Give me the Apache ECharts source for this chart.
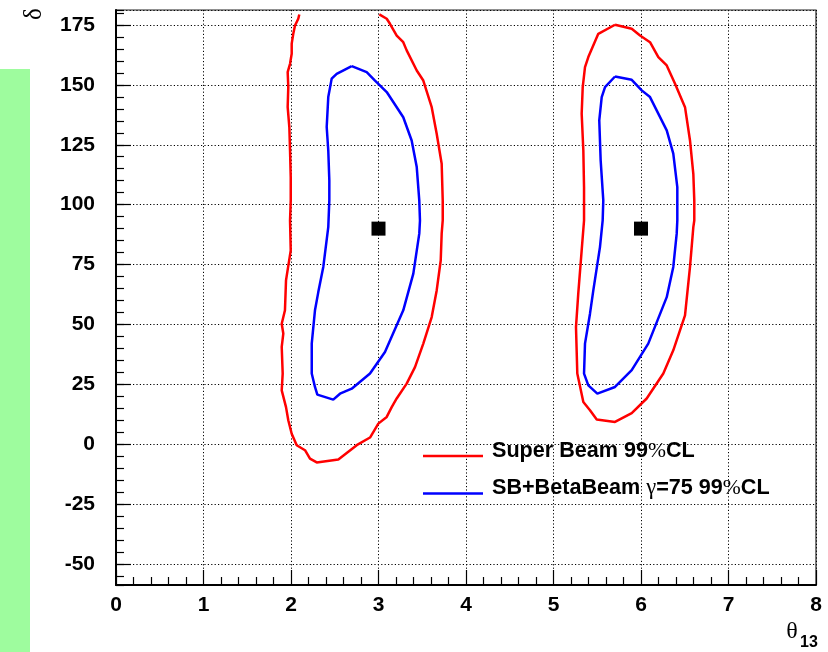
<!DOCTYPE html>
<html>
<head>
<meta charset="utf-8">
<script src="https://cdn.jsdelivr.net/npm/echarts@6/dist/echarts.min.js"></script>
<style>
  html, body { margin: 0; padding: 0; background: #fff; }
  #chart { width: 828px; height: 652px; }
</style>
</head>
<body>
<div id="chart"></div>
<script>
// 99% CL contours in the (theta13, delta) plane
const redLeft = [[2.095,179.4],[2.083,177.6],[2.046,174.8],[2.026,171.3],[2.008,167.2],[2.008,163.0],[1.989,158.8],[1.962,155.3],[1.969,149.1],[1.962,140.7],[1.981,132.4],[1.989,122.6],[1.997,111.5],[1.997,104.6],[1.997,101.8],[1.989,93.4],[1.997,80.9],[1.943,68.4],[1.931,55.9],[1.894,50.3],[1.912,46.2],[1.894,40.6],[1.905,29.5],[1.894,22.5],[1.943,15.5],[1.969,10.0],[2.008,4.4],[2.065,-0.4],[2.16,-2.5],[2.217,-6.0],[2.294,-7.6],[2.541,-6.4],[2.751,-0.4],[2.903,2.8],[2.998,8.6],[3.094,11.4],[3.151,15.5],[3.208,19.1],[3.322,25.3],[3.417,32.2],[3.512,42.0],[3.608,53.1],[3.665,64.2],[3.711,76.7],[3.722,87.9],[3.734,93.4],[3.734,101.8],[3.722,117.1],[3.665,129.6],[3.608,140.7],[3.512,151.8],[3.437,156.0],[3.322,164.4],[3.283,167.8],[3.208,170.6],[3.131,175.5],[3.094,177.6],[3.009,179.4]];
const blueLeft = [[2.694,157.8],[2.522,154.6],[2.465,152.6],[2.426,144.9],[2.408,132.4],[2.426,122.6],[2.438,110.1],[2.438,101.8],[2.426,90.6],[2.369,74.0],[2.312,63.5],[2.274,55.9],[2.237,42.0],[2.237,29.5],[2.274,23.9],[2.301,20.7],[2.483,18.6],[2.56,21.1],[2.694,23.2],[2.903,29.5],[3.074,38.5],[3.283,55.9],[3.398,71.2],[3.466,87.9],[3.474,93.4],[3.466,101.8],[3.437,115.7],[3.379,126.8],[3.283,136.5],[3.094,147.0],[2.96,151.8],[2.865,155.3],[2.694,157.8]];
const redRight = [[5.703,175.1],[5.894,173.4],[5.989,170.6],[6.103,167.8],[6.198,161.6],[6.294,158.1],[6.389,150.5],[6.503,140.7],[6.56,126.8],[6.598,112.9],[6.609,101.8],[6.609,93.4],[6.598,90.6],[6.56,74.0],[6.503,53.8],[6.369,39.2],[6.255,29.5],[6.065,19.1],[5.894,13.0],[5.703,9.3],[5.494,10.3],[5.417,14.2],[5.341,17.6],[5.272,29.5],[5.257,48.9],[5.283,62.9],[5.322,80.9],[5.349,93.4],[5.349,101.8],[5.349,107.3],[5.341,122.6],[5.322,138.0],[5.334,149.1],[5.36,157.4],[5.398,161.6],[5.512,171.3],[5.703,175.1]];
const blueRight = [[5.703,153.5],[5.894,152.1],[6.008,147.7],[6.103,144.9],[6.294,131.0],[6.369,121.3],[6.415,107.3],[6.415,101.8],[6.415,93.4],[6.408,87.9],[6.369,74.0],[6.294,61.4],[6.083,42.0],[5.894,30.9],[5.703,23.9],[5.501,21.1],[5.398,24.6],[5.349,29.5],[5.36,42.0],[5.417,54.5],[5.455,64.2],[5.531,82.3],[5.562,93.4],[5.569,101.8],[5.539,118.5],[5.523,135.2],[5.551,144.9],[5.589,149.1],[5.703,153.5]];
// true parameter points
const truePoints = [[3, 90], [6, 90]];

const nameSB = 'Super Beam 99%CL';
const nameBB = 'SB+BetaBeam \u03b3=75 99%CL';

const SANS = '"Liberation Sans", Arial, Helvetica, sans-serif';
const SERIF = '"Liberation Serif", "Times New Roman", serif';

const chart = echarts.init(document.getElementById('chart'), null, { renderer: 'canvas' });

const dotted = { color: '#000', width: 1, type: [1.2, 2.2] };
const yMin = -58.75, yMax = 181.25;

function contour(name, data, color) {
  return {
    name: name, type: 'line', data: data,
    showSymbol: false, symbol: 'none', smooth: false,
    lineStyle: { color: color, width: 2.5 },
    itemStyle: { color: color },
    silent: true, z: 3
  };
}

chart.setOption({
  animation: false,
  grid: {
    left: 116, right: 12, top: 10, bottom: 67,
    show: true, borderColor: '#222', borderWidth: 1.2, backgroundColor: 'transparent'
  },
  xAxis: {
    type: 'value', min: 0, max: 8, interval: 1,
    axisLine: { show: true, onZero: false, lineStyle: { color: '#000', width: 2 } },
    axisTick: { show: true, inside: true, length: 15, lineStyle: { color: '#000', width: 1.2 } },
    minorTick: { show: true, splitNumber: 5, length: 8, lineStyle: { color: '#000', width: 1.2 } },
    axisLabel: { color: '#000', fontFamily: SANS, fontWeight: 'bold', fontSize: 21, margin: 10 },
    splitLine: { show: true, lineStyle: dotted }
  },
  yAxis: [{
    type: 'value', min: yMin, max: yMax, minInterval: 25, maxInterval: 25,
    axisLine: { show: true, onZero: false, lineStyle: { color: '#000', width: 2 } },
    axisTick: { show: true, inside: true, length: 15, lineStyle: { color: '#000', width: 1.2 } },
    axisLabel: { color: '#000', fontFamily: SANS, fontWeight: 'bold', fontSize: 21, margin: 21,
                 showMinLabel: false, showMaxLabel: false },
    splitLine: { show: true, lineStyle: dotted }
  }, {
    // minor ticks every 5 units
    type: 'value', position: 'left', min: yMin, max: yMax, minInterval: 5, maxInterval: 5,
    axisLine: { show: false },
    axisTick: { show: true, inside: true, length: 8, lineStyle: { color: '#000', width: 1.2 } },
    axisLabel: { show: false },
    splitLine: { show: false }
  }, {
    // carries the rotated axis title at the far left
    type: 'value', position: 'left', offset: 82, min: yMin, max: yMax,
    axisLine: { show: false }, axisTick: { show: false }, axisLabel: { show: false }, splitLine: { show: false },
    name: '\u03b4', nameLocation: 'end', nameRotate: 90, nameGap: -10,
    nameTextStyle: { fontFamily: SERIF, fontSize: 25, color: '#000' }
  }],
  legend: {
    orient: 'vertical', left: 418, top: 435, itemWidth: 60, itemHeight: 14, itemGap: 15,
    data: [nameSB, nameBB],
    icon: 'path://M0,6 L60,6 L60,8.3 L0,8.3 Z',
    selectedMode: false,
    textStyle: {
      padding: [0, 0, 10, 4],
      rich: {
        a: { fontFamily: SANS, fontWeight: 'bold', fontSize: 21.6, color: '#000' },
        g: { fontFamily: SERIF, fontSize: 22.5, color: '#000' },
        p: { fontFamily: SERIF, fontSize: 21.6, color: '#000' }
      }
    },
    formatter: function (name) {
      return name === nameSB
        ? '{a|Super Beam 99}{p|%}{a|CL}'
        : '{a|SB+BetaBeam }{g|\u03b3}{a|=75 99}{p|%}{a|CL}';
    }
  },
  series: [
    contour(nameSB, redLeft, '#ff0000'),
    contour(nameSB, redRight, '#ff0000'),
    contour(nameBB, blueLeft, '#0000ff'),
    contour(nameBB, blueRight, '#0000ff'),
    {
      name: 'true', type: 'scatter', data: truePoints, symbol: 'rect', symbolSize: 14,
      itemStyle: { color: '#000', opacity: 1 }, silent: true, z: 4
    }
  ],
  graphic: [
    { type: 'rect', left: 0, top: 69, shape: { width: 30, height: 583 }, style: { fill: '#9efc9e' }, silent: true },
    { type: 'text', x: 792, y: 632,
      style: { text: '\u03b8', font: '24px ' + SERIF, fill: '#000', align: 'center', verticalAlign: 'middle' }, silent: true },
    { type: 'text', x: 800, y: 643,
      style: { text: '13', font: 'bold 16px ' + SANS, fill: '#000', align: 'left', verticalAlign: 'middle' }, silent: true }
  ]
});
</script>
</body>
</html>
